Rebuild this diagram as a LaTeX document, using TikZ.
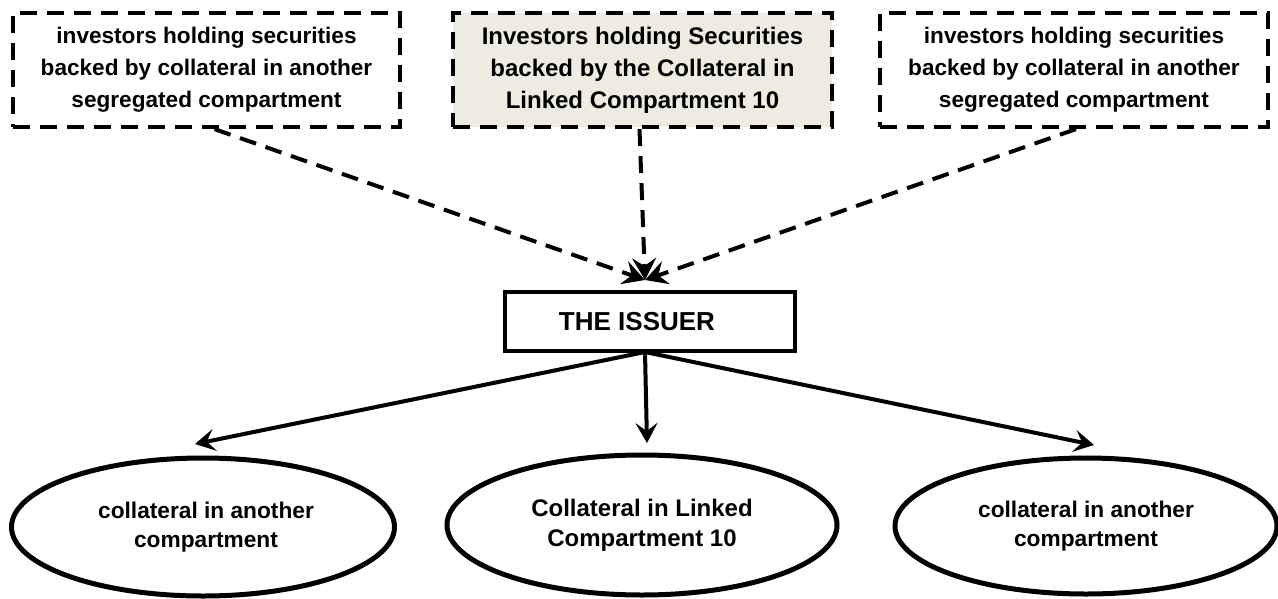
\documentclass[tikz,border=0pt]{standalone}
\usepackage{fontspec}
\setmainfont{Liberation Sans}
\usetikzlibrary{arrows.meta,shapes.geometric}
\definecolor{beige}{RGB}{238,236,225}
\tikzset{
  dbox/.style={draw, line width=4.2pt, dash pattern=on 17pt off 10pt, align=center, inner sep=0pt},
  ibox/.style={draw, line width=4pt, font=\bfseries\fontsize{26}{30}\selectfont, inner sep=0pt},
  coll/.style={draw, ellipse, line width=5pt, align=center, inner sep=0pt},
  sidefont/.style={font=\bfseries\fontsize{22.6}{32}\selectfont},
  midfont/.style={font=\bfseries\fontsize{24}{32}\selectfont},
  darrow/.style={line width=4pt, dash pattern=on 17pt off 10pt, -{Stealth[length=22pt,width=24pt,inset=8pt]}},
  sarrow/.style={line width=4pt, -{Stealth[length=20pt,width=22pt,inset=8pt]}}
}
\begin{document}
\begin{tikzpicture}[x=1pt,y=-1pt]
\useasboundingbox (0,0) rectangle (1278,598);
\node[dbox, sidefont, minimum width=387pt, minimum height=114pt] (lbox) at (206.5,70) {investors holding securities\\backed by collateral in another\\segregated compartment};
\node[dbox, midfont, fill=beige, minimum width=379pt, minimum height=114pt] (mbox) at (642.5,70) {Investors holding Securities\\backed by the Collateral in\\Linked Compartment 10};
\node[dbox, sidefont, minimum width=388pt, minimum height=114pt] (rbox) at (1074,70) {investors holding securities\\backed by collateral in another\\segregated compartment};
\node[ibox, minimum width=290pt, minimum height=59pt] (issuer) at (650,321.5) {\hspace*{-26pt}THE ISSUER};
\node[coll, font=\bfseries\fontsize{22.7}{29}\selectfont, minimum width=383pt, minimum height=138pt] (lcoll) at (203,527) {\hspace*{6pt}collateral in another\\\hspace*{6pt}compartment};
\node[coll, font=\bfseries\fontsize{24}{30}\selectfont, minimum width=390pt, minimum height=140pt] (mcoll) at (642,525) {Collateral in Linked\\Compartment 10};
\node[coll, font=\bfseries\fontsize{22.7}{29}\selectfont, minimum width=382pt, minimum height=136pt] (rcoll) at (1086,526) {collateral in another\\compartment};
\coordinate (tip) at (645,280);
\coordinate (src) at (645,352);
\coordinate (lt) at (195,444);
\coordinate (mt) at (647,443);
\coordinate (rt) at (1094,445);
\draw[darrow] ([xshift=8pt]lbox.south) -- (tip);
\draw[darrow] ([xshift=-3pt]mbox.south) -- (tip);
\draw[darrow] ([xshift=2pt]rbox.south) -- (tip);
\draw[sarrow] (src) -- (lt);
\draw[sarrow] (src) -- (mt);
\draw[sarrow] (src) -- (rt);
\end{tikzpicture}
\end{document}
